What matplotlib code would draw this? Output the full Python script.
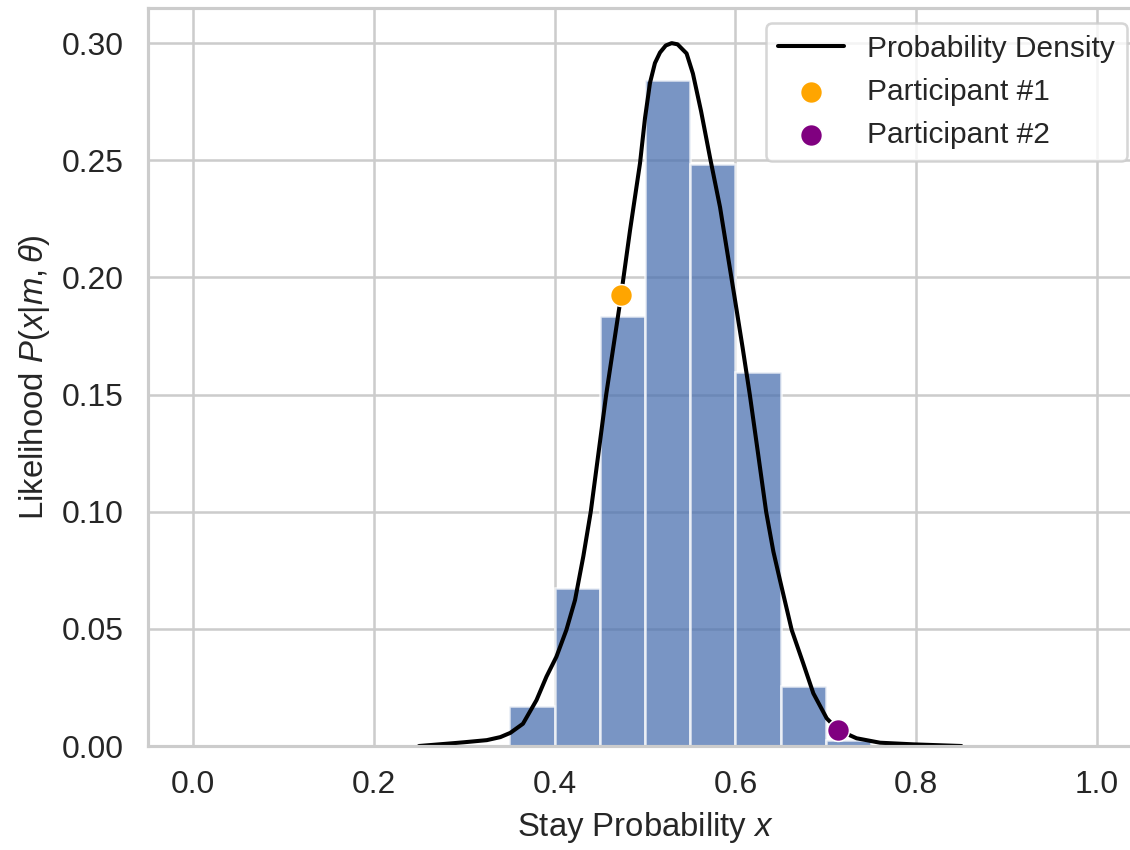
import numpy as np
import matplotlib
matplotlib.use("Agg")
import matplotlib.pyplot as plt
import seaborn as sns

# histogram of stay probabilities (bin left edges, normalized heights)
bin_left = [0.35, 0.40, 0.45, 0.50, 0.55, 0.60, 0.65, 0.70]
bin_width = 0.05
bin_height = [0.0172, 0.0673, 0.1835, 0.2842, 0.2484, 0.1597, 0.0256, 0.0026]

# density curve (flat tails hidden under the spine)
dens_x = [0.25, 0.288, 0.30, 0.325, 0.34, 0.351, 0.365,
          0.380, 0.391, 0.402, 0.413, 0.4226, 0.4318, 0.440, 0.457, 0.4723,
          0.4834, 0.4945, 0.500, 0.5055, 0.511, 0.5166, 0.523, 0.5295, 0.536,
          0.546, 0.553, 0.562, 0.572, 0.583, 0.5905, 0.5996, 0.608, 0.616,
          0.625, 0.634, 0.642, 0.6493, 0.6623, 0.675, 0.6862, 0.701, 0.7138,
          0.734, 0.760, 0.797, 0.85]
dens_y = [0.0, 0.0012, 0.0016, 0.0025, 0.0038, 0.0056, 0.0095,
          0.0196, 0.0296, 0.0381, 0.0495, 0.0623, 0.0810, 0.100, 0.1498, 0.189,
          0.220, 0.2488, 0.268, 0.283, 0.2915, 0.296, 0.2990, 0.300, 0.2995,
          0.2956, 0.287, 0.271, 0.251, 0.230, 0.212, 0.1903, 0.170, 0.1498,
          0.125, 0.100, 0.083, 0.0708, 0.0495, 0.0353, 0.0225, 0.0118, 0.0068,
          0.0033, 0.0014, 0.0007, 0.0]

# participants
p1_x, p1_y = 0.474, 0.1925
p2_x, p2_y = 0.7138, 0.0068

sns.set_theme(style="whitegrid", context="notebook")
plt.rcParams['font.family'] = ['Liberation Sans', 'DejaVu Sans']
plt.rcParams['mathtext.fontset'] = 'custom'
plt.rcParams['mathtext.rm'] = 'Liberation Sans'
plt.rcParams['mathtext.it'] = 'Liberation Sans:italic'
plt.rcParams['xtick.labelsize'] = 12.6
plt.rcParams['ytick.labelsize'] = 12.6
plt.rcParams['axes.labelsize'] = 13
plt.rcParams['legend.fontsize'] = 11.8

dpi = 182
fig = plt.figure(figsize=(1130 / dpi, 850 / dpi), dpi=dpi)
ax = fig.add_axes([147.8 / 1130, 104 / 850, 994.4 / 1130, 738 / 850])

ax.bar(bin_left, bin_height, width=bin_width, align="edge",
       color="#4C72B0", alpha=0.75, edgecolor="white", linewidth=1.0)
ax.plot(dens_x, dens_y, color="black", lw=1.6, label="Probability Density")
ax.scatter([p1_x], [p1_y], s=75, color="orange", edgecolor="white",
           linewidth=0.6, zorder=4, label="Participant #1")
ax.scatter([p2_x], [p2_y], s=75, color="purple", edgecolor="white",
           linewidth=0.6, zorder=4, label="Participant #2")

ax.set_xlim(-0.05, 1.05)
ax.set_ylim(0, 0.315)
ax.set_xticks(np.arange(0, 1.01, 0.2))
ax.set_yticks(np.arange(0, 0.301, 0.05))
ax.set_xlabel("Stay Probability $x$")
ax.set_ylabel(r"Likelihood $P(x|m,\theta)$")
ax.legend(loc="upper right", handlelength=2.2)

fig.savefig("out.png", dpi=dpi)
